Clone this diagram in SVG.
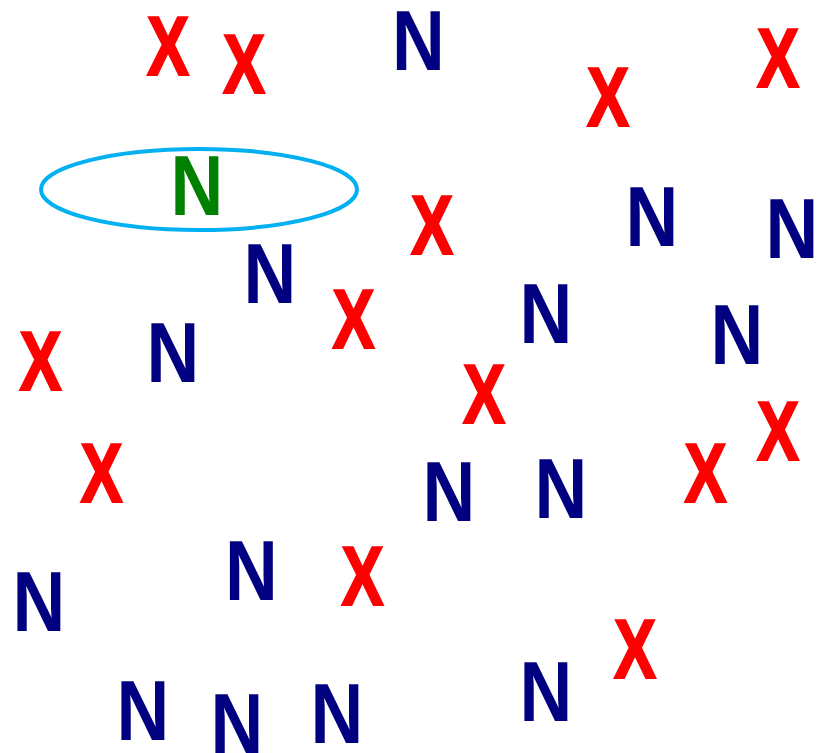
<svg xmlns="http://www.w3.org/2000/svg" width="827" height="753" viewBox="0 0 827 753">
<style>
text{font-family:"Liberation Sans",Arial,sans-serif;font-weight:bold;font-size:85px;text-anchor:middle}
.x{fill:#FF0000;stroke:#FF0000;stroke-width:2.2px;stroke-linejoin:miter;font-size:83px}
.n{fill:#000080}
.g{fill:#008000}
</style>
<rect width="827" height="753" fill="#FFFFFF"/>
<g id="ellipse"><ellipse cx="199" cy="189.5" rx="158" ry="40.5" fill="none" stroke="#00B0F0" stroke-width="4"/></g>
<g id="x1"><text class="x" transform="translate(168,75) scale(0.76,1)">X</text></g>
<g id="x2"><text class="x" transform="translate(244,93) scale(0.76,1)">X</text></g>
<g id="x3"><text class="x" transform="translate(608,126) scale(0.76,1)">X</text></g>
<g id="x4"><text class="x" transform="translate(778,87) scale(0.76,1)">X</text></g>
<g id="x5"><text class="x" transform="translate(432,254) scale(0.76,1)">X</text></g>
<g id="x6"><text class="x" transform="translate(353.5,348) scale(0.76,1)">X</text></g>
<g id="x7"><text class="x" transform="translate(40.5,390) scale(0.76,1)">X</text></g>
<g id="x8"><text class="x" transform="translate(484,423) scale(0.76,1)">X</text></g>
<g id="x9"><text class="x" transform="translate(778,460) scale(0.76,1)">X</text></g>
<g id="x10"><text class="x" transform="translate(101.5,502) scale(0.76,1)">X</text></g>
<g id="x11"><text class="x" transform="translate(705.5,502) scale(0.76,1)">X</text></g>
<g id="x12"><text class="x" transform="translate(362.5,605) scale(0.76,1)">X</text></g>
<g id="x13"><text class="x" transform="translate(635,678) scale(0.76,1)">X</text></g>
<g id="n1"><text class="n" transform="translate(418.5,70) scale(0.86,1)">N</text></g>
<g id="n2"><text class="g" transform="translate(197,215) scale(0.86,1)">N</text></g>
<g id="n3"><text class="n" transform="translate(270,303) scale(0.86,1)">N</text></g>
<g id="n4"><text class="n" transform="translate(652,246) scale(0.86,1)">N</text></g>
<g id="n5"><text class="n" transform="translate(792,258) scale(0.86,1)">N</text></g>
<g id="n6"><text class="n" transform="translate(546,343) scale(0.86,1)">N</text></g>
<g id="n7"><text class="n" transform="translate(737,364) scale(0.86,1)">N</text></g>
<g id="n8"><text class="n" transform="translate(173,382) scale(0.86,1)">N</text></g>
<g id="n9"><text class="n" transform="translate(449,521) scale(0.86,1)">N</text></g>
<g id="n10"><text class="n" transform="translate(561,518) scale(0.86,1)">N</text></g>
<g id="n11"><text class="n" transform="translate(251.5,600) scale(0.86,1)">N</text></g>
<g id="n12"><text class="n" transform="translate(39,631) scale(0.86,1)">N</text></g>
<g id="n13"><text class="n" transform="translate(546,721) scale(0.86,1)">N</text></g>
<g id="n14"><text class="n" transform="translate(143,740) scale(0.86,1)">N</text></g>
<g id="n15"><text class="n" transform="translate(237,753) scale(0.86,1)">N</text></g>
<g id="n16"><text class="n" transform="translate(337,743) scale(0.86,1)">N</text></g>
</svg>
